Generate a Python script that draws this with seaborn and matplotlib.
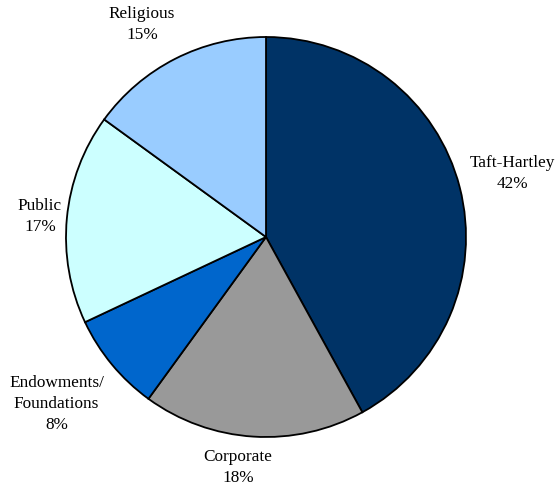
import numpy as np
import matplotlib
matplotlib.use("Agg")
import matplotlib.pyplot as plt
import seaborn as sns

sectors = ["Taft-Hartley", "Corporate", "Endowments/\nFoundations", "Public", "Religious"]
shares = [42, 18, 8, 17, 15]
colors = ["#003366", "#999999", "#0066CC", "#CCFFFF", "#99CCFF"]

sns.set_theme(style="white")
plt.rcParams["font.family"] = ["Liberation Serif", "DejaVu Serif"]

fig = plt.figure(figsize=(5.55, 4.87), dpi=100)
ax = fig.add_axes([66 / 555, 50 / 487, 400 / 555, 400 / 487])

wedges, _ = ax.pie(shares, colors=sns.color_palette(colors), startangle=90,
                   counterclock=False, radius=1,
                   wedgeprops=dict(edgecolor="black", linewidth=1.3))
ax.set_xlim(-1, 1)
ax.set_ylim(-1, 1)
ax.set_aspect("equal")
ax.axis("off")

# label placement: distance from centre and small angle nudge, per slice
dist = [1.27, 1.16, 1.34, 1.135, 1.23]
nudge = [0, -3.3, -1, 0.3, 3.3]
for w, name, pct, d, da in zip(wedges, sectors, shares, dist, nudge):
    ang = np.deg2rad((w.theta1 + w.theta2) / 2 + da)
    ax.text(d * np.cos(ang), d * np.sin(ang), f"{name}\n{pct}%",
            ha="center", va="center", fontsize=12.4, linespacing=1.4,
            color="black", clip_on=False)

fig.savefig("out.png", dpi=100)
